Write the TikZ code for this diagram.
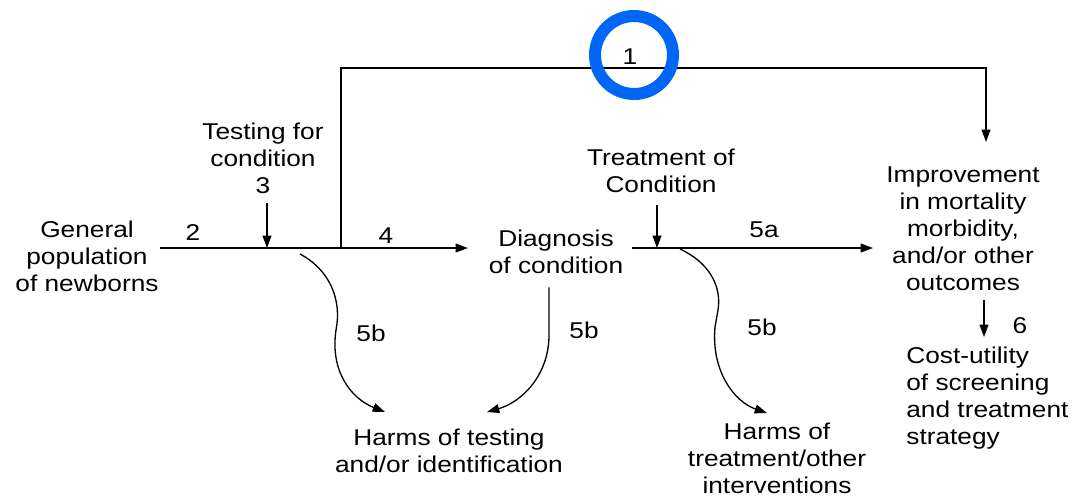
\documentclass[tikz,border=0pt]{standalone}
\usepackage{fontspec}
\setmainfont{Liberation Sans}[FakeStretch=1.15]
\usepackage{tikz}
\usetikzlibrary{arrows.meta, positioning, calc}
\definecolor{ringblue}{RGB}{0,102,245}

\begin{document}
\begin{tikzpicture}[x=0.02cm, y=-0.02cm,
    txt/.style={align=center, inner sep=0pt, font=\fontsize{13}{15.4}\selectfont},
    num/.style={inner sep=0pt, font=\fontsize{13}{15.4}\selectfont},
    arr/.style={-{Triangle[length=7pt, width=5pt]}, line width=0.75pt},
    ln/.style={line width=0.75pt}]
    \useasboundingbox (0,0) rectangle (1077,498);

    % boxes of text
    \node[txt] (gen) at (87,256) {General\\population\\of newborns};
    \node[txt] (test) at (263,158) {Testing for\\condition\\3};
    \node[txt] (diag) at (556,252) {Diagnosis\\of condition};
    \node[txt] (treat) at (661,171) {Treatment of\\Condition};
    \node[txt] (impr) at (963,229) {Improvement\\in mortality\\morbidity,\\and/or other\\outcomes};
    \node[txt, align=left, anchor=west] (cost) at (906,398) {Cost-utility\\of screening\\and treatment\\strategy};
    \node[txt] (harmt) at (449,451) {Harms of testing\\and/or identification};
    \node[txt] (harmi) at (777,458) {Harms of\\treatment/other\\interventions};

    % junction points
    \coordinate (s2) at (160,248);
    \coordinate (j3) at (267,248);
    \coordinate (j1) at (341,248);
    \coordinate (e4) at (468,248);
    \coordinate (s5) at (632,248);
    \coordinate (j5) at (657,248);
    \coordinate (e5) at (873,248);
    \coordinate (t1) at (341,68);
    \coordinate (r1) at (986,68);
    \coordinate (e1) at (986,142);
    \coordinate (s6) at (984,300);
    \coordinate (e6) at (984,337);

    % main chain
    \draw[arr] (s2) -- (e4);
    \draw[arr] ($(test.south -| j3)+(0,9)$) -- (j3);
    \draw[arr] (j1) -- (t1) -- (r1) -- (e1);
    \draw[arr] (s5) -- (e5);
    \draw[arr] ($(treat.south -| j5)+(0,12)$) -- (j5);
    \draw[arr] (s6) -- (e6);

    % harms
    \draw[arr] (300,254) .. controls (330,270) and (342,300) .. (336,330)
        .. controls (330,370) and (350,398) .. (385,412);
    \draw[arr] ($(diag.south)+(-7,13)$) -- (549,335)
        .. controls (549,375) and (522,402) .. (487,412);
    \draw[arr] (680,249) .. controls (708,262) and (722,285) .. (718,310)
        -- (715,327) .. controls (711,372) and (735,402) .. (767,413);

    % numbers
    \node[num] (n2) at (193,233) {2};
    \node[num] (n4) at (386,236) {4};
    \node[num] (n5a) at (764,230) {5a};
    \node[num] (n6) at (1020,326) {6};
    \node[num] (n5b1) at (371,333) {5b};
    \node[num] (n5b2) at (584,330) {5b};
    \node[num] (n5b3) at (762,327) {5b};
    \node[num] (n1) at (630,57) {1};
    \draw[ringblue, line width=0.24cm] (n1) ++(4,-2) circle[radius=39];
\end{tikzpicture}
\end{document}
